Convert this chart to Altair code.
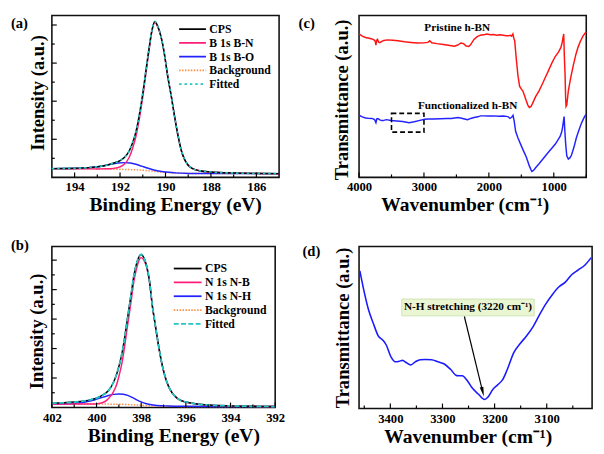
import altair as alt
import pandas as pd

FONT = "Liberation Serif"

# ---------------- (a) B 1s ----------------
a_ev = [195.0, 194.0, 193.4, 193.0, 192.6, 192.3, 192.0, 191.8, 191.6, 191.45, 191.3, 191.15, 191.0, 190.85,
        190.72, 190.6, 190.47, 190.35, 190.2, 190.05, 189.9, 189.75, 189.6, 189.45, 189.3, 189.15, 189.0,
        188.8, 188.5, 188.0, 187.3, 186.5, 185.7, 185.0]
a_cps = [229, 238, 255, 280, 320, 370, 440, 530, 690, 900, 1200, 1650, 2200, 2850, 3400, 3850, 4090, 3980,
         3700, 3250, 2650, 2150, 1600, 1100, 700, 460, 320, 230, 175, 140, 120, 108, 102, 98]
a_bn = [229, 226, 224, 222, 224, 235, 275, 350, 520, 760, 1080, 1540, 2110, 2780, 3350, 3820, 4070, 3970,
        3695, 3245, 2645, 2145, 1597, 1098, 698, 458, 318, 228, 173, 138, 118, 106, 100, 97]
a_fit = [229, 238, 255, 280, 320, 370, 440, 530, 690, 900, 1200, 1650, 2200, 2850, 3400, 3850, 4090, 3980,
         3700, 3250, 2650, 2150, 1600, 1100, 700, 460, 320, 230, 175, 140, 120, 108, 102, 98]
a_ev_bo = [195.0, 194.0, 193.5, 193.1, 192.7, 192.4, 192.1, 191.8, 191.55, 191.3, 191.05, 190.8, 190.55,
           190.3, 190.0, 189.6, 189.0, 188.0, 186.5, 185.0]
a_bo = [229, 234, 248, 270, 305, 345, 375, 387, 378, 345, 295, 245, 200, 165, 138, 118, 104, 100, 98, 97]
a_ev_bg = [195.0, 194.0, 193.0, 192.2, 191.6, 191.2, 190.9, 190.6, 190.3, 190.0, 189.7, 189.3, 188.8, 188.0,
           186.5, 185.0]
a_bg = [229, 226, 222, 215, 205, 195, 182, 165, 145, 128, 116, 108, 103, 100, 98, 97]
a_legend = ["CPS", "B 1s B-N", "B 1s B-O", "Background", "Fitted"]

# ---------------- (b) N 1s ----------------
b_ev = [402.0, 401.5, 401.0, 400.6, 400.2, 399.95, 399.75, 399.55, 399.4, 399.25, 399.1, 398.97, 398.85,
        398.75, 398.64, 398.54, 398.43, 398.33, 398.22, 398.12, 398.0, 397.88, 397.75, 397.63, 397.5, 397.39,
        397.25, 397.1, 396.95, 396.8, 396.6, 396.4, 396.2, 395.9, 395.5, 395.0, 394.0, 393.0, 392.0]
b_cps = [141, 160, 185, 215, 275, 333, 410, 513, 640, 840, 1130, 1474, 1880, 2330, 2900, 3397, 3950, 4468,
         4850, 5080, 5192, 5080, 4788, 4300, 3450, 2900, 2224, 1583, 1100, 760, 480, 320, 230, 170, 120, 85,
         55, 40, 32]
b_nb = [118, 117, 116, 116, 120, 130, 160, 243, 360, 523, 780, 1144, 1560, 2030, 2630, 3140, 3720, 4270,
        4680, 4950, 5086, 5000, 4740, 4270, 3430, 2885, 2210, 1575, 1095, 755, 477, 317, 228, 168, 118, 84,
        54, 39, 31]
b_fit = [141, 160, 185, 215, 275, 333, 410, 513, 640, 840, 1130, 1474, 1880, 2330, 2900, 3397, 3950, 4468,
         4850, 5080, 5192, 5080, 4788, 4300, 3450, 2900, 2224, 1583, 1100, 760, 480, 320, 230, 170, 120, 85,
         55, 40, 32]
b_ev_nh = [402.0, 401.3, 400.9, 400.5, 400.1, 399.8, 399.5, 399.25, 399.0, 398.8, 398.6, 398.4, 398.2, 398.0,
           397.8, 397.6, 397.3, 396.8, 396.0, 394.0, 392.0]
b_nh = [118, 125, 145, 185, 255, 330, 400, 445, 461, 450, 410, 340, 260, 190, 135, 100, 70, 52, 42, 35, 32]
b_ev_bg = [402.0, 400.0, 399.0, 398.5, 398.0, 397.5, 397.0, 396.0, 394.0, 392.0]
b_bg = [118, 116, 110, 95, 75, 55, 42, 36, 33, 32]
b_legend = ["CPS", "N 1s N-B", "N 1s N-H", "Background", "Fitted"]

# ---------------- (c) FTIR full range ----------------
c_wn_p = [4000, 3950, 3900, 3860, 3800, 3770, 3750, 3740, 3730, 3715, 3700, 3680, 3650, 3620, 3560, 3480,
          3400, 3300, 3200, 3100, 3000, 2940, 2910, 2880, 2800, 2700, 2600, 2530, 2480, 2430, 2390, 2350,
          2310, 2280, 2230, 2180, 2130, 2060, 2030, 1980, 1930, 1880, 1830, 1780, 1730, 1700, 1670, 1650,
          1630, 1615, 1602, 1580, 1553, 1527, 1500, 1478, 1450, 1427, 1400, 1377, 1350, 1327, 1280, 1227,
          1180, 1126, 1080, 1027, 980, 926, 890, 870, 855, 847, 838, 826, 818, 811, 800, 776, 740, 701, 660,
          626, 590, 551, 516, 500]
c_tp = [152.8, 150.5, 149, 148.5, 147.5, 146.5, 145, 141, 146, 147, 144, 143.5, 145, 145.8, 146.5, 146.2,
        145.5, 144.5, 143.8, 143.2, 143.3, 143.8, 145.5, 143.5, 142.5, 141.5, 140.5, 139.8, 141, 143.2,
        142.5, 140, 139.5, 141.5, 147, 150, 151.5, 152.3, 152.8, 152, 152.3, 151.5, 152, 151.5, 151, 150.8,
        151.5, 150.5, 152.8, 148, 145.5, 128, 108.8, 97.2, 94, 92.2, 87, 82.2, 77, 74.5, 75.5, 78.8, 86,
        92.2, 99, 107.2, 114, 122.2, 128.5, 133.8, 138.5, 144, 150, 152.8, 130, 108.8, 85, 75.5, 77, 92.2,
        106, 118.8, 131, 138.8, 145, 150.5, 153.8, 155]
c_wn_f = [4000, 3950, 3900, 3860, 3800, 3760, 3740, 3725, 3704, 3680, 3650, 3629, 3580, 3504, 3420, 3329,
          3228, 3150, 3078, 2990, 2928, 2850, 2750, 2650, 2578, 2477, 2420, 2360, 2327, 2280, 2228, 2170,
          2128, 2080, 2020, 1928, 1850, 1780, 1727, 1700, 1677, 1650, 1628, 1610, 1587, 1553, 1502, 1465,
          1427, 1400, 1377, 1350, 1337, 1310, 1277, 1227, 1177, 1127, 1077, 1027, 976, 935, 901, 880, 867,
          855, 841, 830, 817, 800, 776, 750, 727, 690, 652, 615, 577, 545, 520, 500]
c_tf = [66.2, 64.5, 63.2, 63, 62.8, 61.5, 58.2, 62.5, 62.5, 61.2, 60.5, 60.5, 61.5, 60.5, 60, 59.5, 58.2,
        59.2, 60.5, 62, 62.2, 62.3, 62.5, 62.8, 62.8, 63.8, 63, 62, 61.5, 62.8, 63.8, 64.5, 65.5, 65.5, 65.3,
        65.5, 65.2, 65.3, 65, 64.5, 62.8, 64, 66.2, 60, 48.8, 42.2, 33.8, 28, 22.2, 17, 12.2, 8, 6.2, 7.5,
        10.5, 14.5, 18.8, 23, 27.2, 31.3, 35.5, 40, 43.8, 48, 52.2, 58, 64.8, 50, 35.5, 23, 19.5, 21, 23.8,
        32, 42.2, 50, 57.2, 62, 65.5, 67]
c_box_wn = [3500, 3000]
c_box_t = [48.2, 68.2]
c_text = ["Pristine h-BN", "Functionalized h-BN"]
c_text_wn = [2488, 2327]
c_text_t = [158.8, 76.2]

# ---------------- (d) FTIR zoom ----------------
d_wn = [3458.5, 3451, 3441.8, 3432.5, 3423.2, 3413.9, 3407.8, 3398.5, 3390.3, 3382.9, 3376.8, 3368.8,
        3361.4, 3352.1, 3342.8, 3332, 3321.1, 3308.6, 3296.4, 3284.1, 3272.8, 3262.2, 3252.9, 3244, 3231.4,
        3219, 3212.8, 3203.5, 3194.2, 3184.9, 3175.7, 3163.2, 3150.8, 3138.5, 3126.1, 3113.7, 3101.4, 3089,
        3076.5, 3064.3, 3051.8, 3039.4, 3027.1, 3014.7]
d_t = [149.7, 129, 107.3, 92.3, 79, 74, 69, 55.7, 50.7, 51.3, 52.3, 49.7, 47.3, 50.7, 53, 53.2, 53, 50.7,
       48.3, 42.3, 35.7, 35.5, 30.7, 23, 15.7, 9.7, 12.3, 20.7, 25.7, 31, 42.3, 60.7, 70.7, 79, 89, 102, 114,
       124, 132.3, 137.3, 145.7, 150.7, 155.7, 164]
d_note = "N-H stretching (3220 cm⁻¹)"
d_note_box_wn = [3378, 3124]
d_note_box_t = [100.7, 119.0]
d_note_wn = 3251
d_note_t = 110
d_arrow_wn = [3258, 3222.8]
d_arrow_t = [100, 18.1]

BLACK = "#000000"
PINK = "#ff1f7a"
BLUE = "#2323ff"
ORANGE = "#ff8c42"
CYAN = "#22c4c4"
RED = "#ff1414"


def x_axis(values, title, W, tx_shift=0, ty=28.5):
    return alt.Axis(values=values, format="d", labelFont=FONT, labelFontWeight="bold", labelFontSize=13,
                    labelColor="black", labelPadding=4, labelFlush=False, labelOverlap=False, ticks=False,
                    tickSize=0, domain=False, grid=False, title=title, titleFont=FONT, titleFontWeight="bold",
                    titleFontSize=20, titleColor="black", titleX=W / 2 + tx_shift, titleY=ty,
                    titleAlign="center", titleBaseline="middle")


def y_axis(title, H, tx, ty_shift=0):
    return alt.Axis(labels=False, ticks=False, tickSize=0, domain=False, grid=False, title=title,
                    titleFont=FONT, titleFontWeight="bold", titleFontSize=19, titleColor="black",
                    titleX=tx, titleY=H / 2 + ty_shift, titleAngle=270, titleAlign="center",
                    titleBaseline="middle")


class Panel:
    def __init__(self, xdom, ydom, xaxis, yaxis):
        self.xs = alt.Scale(domain=xdom, nice=False, zero=False)
        self.ys = alt.Scale(domain=ydom, nice=False, zero=False)
        self.xa = xaxis
        self.ya = yaxis

    def X(self, f="x"):
        return alt.X(f"{f}:Q", scale=self.xs, axis=self.xa, title=self.xa.title)

    def Y(self, f="y"):
        return alt.Y(f"{f}:Q", scale=self.ys, axis=self.ya, title=self.ya.title)

    def line(self, xv, yv, color, width=1.5, dash=None, interp="monotone"):
        df = pd.DataFrame({"x": xv, "y": yv})
        kw = dict(color=color, strokeWidth=width, interpolate=interp)
        if dash:
            kw["strokeDash"] = dash
        return alt.Chart(df).mark_line(**kw).encode(x=self.X(), y=self.Y())

    def xticks(self, vals, H, L):
        return alt.Chart(pd.DataFrame({"x": vals})).mark_rule(color="black", strokeWidth=1.2).encode(
            x=self.X(), y=alt.value(H), y2=alt.value(H - L))

    def yticks(self, vals, L):
        return alt.Chart(pd.DataFrame({"y": vals})).mark_rule(color="black", strokeWidth=1.2).encode(
            y=self.Y(), x=alt.value(0), x2=alt.value(L))


ONE = pd.DataFrame({"k": [0]})


def label(txt, x, y, size=15):
    return alt.Chart(ONE).mark_text(font=FONT, fontWeight="bold", fontSize=size, align="left",
                                    baseline="middle", color="black").encode(
        x=alt.value(x), y=alt.value(y), text=alt.value(txt))


def legend(entries, x1, x2, tx, y0, dy):
    out = []
    for i, (lab, color, dash) in enumerate(entries):
        y = y0 + dy * i
        kw = dict(color=color, strokeWidth=1.8)
        if dash:
            kw["strokeDash"] = dash
        out.append(alt.Chart(ONE).mark_rule(**kw).encode(x=alt.value(x1), x2=alt.value(x2), y=alt.value(y)))
        out.append(label(lab, tx, y, size=12))
    return out


# ---- panel (a)
WA, HA = 233, 166
P = Panel([195, 185], [0, 4250],
          x_axis([194, 192, 190, 188, 186], "Binding Energy (eV)", WA, 10),
          y_axis("Intensity (a.u.)", HA, -15, -4))
pa = alt.layer(
    P.line(a_ev_bg, a_bg, ORANGE, 1.5, [1.5, 1.5]),
    P.line(a_ev_bo, a_bo, BLUE),
    P.line(a_ev, a_bn, PINK),
    P.line(a_ev, a_cps, BLACK),
    P.line(a_ev, a_fit, CYAN, 1.8, [2.5, 3]),
    P.xticks([194, 192, 190, 188, 186], HA, 5),
    P.xticks([193, 191, 189, 187], HA, 3),
    P.yticks([1000, 2000, 3000, 4000], 5),
    P.yticks([500, 1500, 2500, 3500], 3),
    *legend(list(zip(a_legend, [BLACK, PINK, BLUE, ORANGE, CYAN],
                     [None, None, None, [1.5, 1.5], [2.5, 3]])), 130.5, 158, 161.5, 14, 14.1),
    label("(a)", -42, 7.5),
).properties(width=WA, height=HA)

# ---- panel (c)
WC, HC = 233, 166
P = Panel([4000, 500], [0, 172.5],
          x_axis([4000, 3000, 2000, 1000], "Wavenumber (cm⁻¹)", WC, -8),
          y_axis("Transmittance (a.u.)", HC, -18, 3))
c_box = pd.DataFrame({"x": [c_box_wn[0]], "x2": [c_box_wn[1]], "y": [c_box_t[0]], "y2": [c_box_t[1]]})
c_lab = pd.DataFrame({"x": c_text_wn, "y": c_text_t, "t": c_text})
pc = alt.layer(
    P.line(c_wn_p, c_tp, RED, 1.5, interp="linear"),
    P.line(c_wn_f, c_tf, BLUE, 1.5, interp="linear"),
    alt.Chart(c_box).mark_rect(fillOpacity=0, stroke="black", strokeWidth=1.6, strokeDash=[5, 3]).encode(
        x=P.X(), x2="x2:Q", y=P.Y(), y2="y2:Q"),
    alt.Chart(c_lab).mark_text(font=FONT, fontWeight="bold", fontSize=11.5, color="black").encode(
        x=P.X(), y=P.Y(), text="t:N"),
    P.xticks([4000, 3000, 2000, 1000], HC, 5),
    P.xticks([3500, 2500, 1500, 500], HC, 3),
    label("(c)", -62, 7.5),
).properties(width=WC, height=HC)

# ---- panel (b)
WB, HB = 229, 165
P = Panel([402, 392], [0, 5460],
          x_axis([402, 400, 398, 396, 394, 392], "Binding Energy (eV)", WB, 10),
          y_axis("Intensity (a.u.)", HB, -15.5, 4))
pb = alt.layer(
    P.line(b_ev_bg, b_bg, ORANGE, 1.5, [1.5, 1.5]),
    P.line(b_ev_nh, b_nh, BLUE),
    P.line(b_ev, b_nb, PINK),
    P.line(b_ev, b_cps, BLACK),
    P.line(b_ev, b_fit, CYAN, 1.8, [5, 2.5]),
    P.xticks([402, 400, 398, 396, 394, 392], HB, 5),
    P.xticks([401, 399, 397, 395, 393], HB, 3),
    P.yticks([1000, 2000, 3000, 4000, 5000], 5),
    P.yticks([500, 1500, 2500, 3500, 4500], 3),
    *legend(list(zip(b_legend, [BLACK, PINK, BLUE, ORANGE, CYAN],
                     [None, None, None, [1.5, 1.5], [5, 2.5]])), 125, 153.5, 157, 22.5, 14.2),
    label("(b)", -42, -1),
).properties(width=WB, height=HB)

# ---- panel (d)
WD, HD = 239, 166
P = Panel([3460, 3013], [0, 176],
          x_axis([3400, 3300, 3200, 3100], "Wavenumber (cm⁻¹)", WD, -8),
          y_axis("Transmittance (a.u.)", HD, -17))
d_box = pd.DataFrame({"x": [d_note_box_wn[0]], "x2": [d_note_box_wn[1]],
                      "y": [d_note_box_t[0]], "y2": [d_note_box_t[1]]})
d_txt = pd.DataFrame({"x": [d_note_wn], "y": [d_note_t], "t": [d_note]})
d_arr = pd.DataFrame({"x": [d_arrow_wn[0]], "x2": [d_arrow_wn[1]], "y": [d_arrow_t[0]], "y2": [d_arrow_t[1]]})
d_head = pd.DataFrame({"x": [d_arrow_wn[1]], "y": [d_arrow_t[1]]})
pdd = alt.layer(
    P.line(d_wn, d_t, "#1a1aff", 1.6),
    alt.Chart(d_box).mark_rect(fill="#eaf5d2", stroke="#c5dda6", strokeWidth=0.8).encode(
        x=P.X(), x2="x2:Q", y=P.Y(), y2="y2:Q"),
    alt.Chart(d_txt).mark_text(font=FONT, fontWeight="bold", fontSize=11.5, color="black").encode(
        x=P.X(), y=P.Y(), text="t:N"),
    alt.Chart(d_arr).mark_rule(color="black", strokeWidth=1.2).encode(
        x=P.X(), x2="x2:Q", y=P.Y(), y2="y2:Q"),
    alt.Chart(d_head).mark_point(shape="M -0.38 -1 L 0 1 L 0.38 -1 Z", filled=True, size=100, angle=346,
                                 color="black", opacity=1, strokeWidth=0).encode(x=P.X(), y=P.Y()),
    P.xticks([3400, 3300, 3200, 3100], HD, 5),
    P.xticks([3450, 3350, 3250, 3150, 3050], HD, 3),
    label("(d)", -58, 5),
).properties(width=WD, height=HD)

chart = alt.concat(pa, pc, pb, pdd, columns=2, spacing={"row": 71, "column": 82},
                   align="none", bounds="flush",
                   padding={"left": 2, "top": 1, "right": 0, "bottom": 0}).configure_view(
    stroke="#111111", strokeWidth=1.6)

chart.save("out.html", embed_options={"renderer": "svg", "actions": False})
